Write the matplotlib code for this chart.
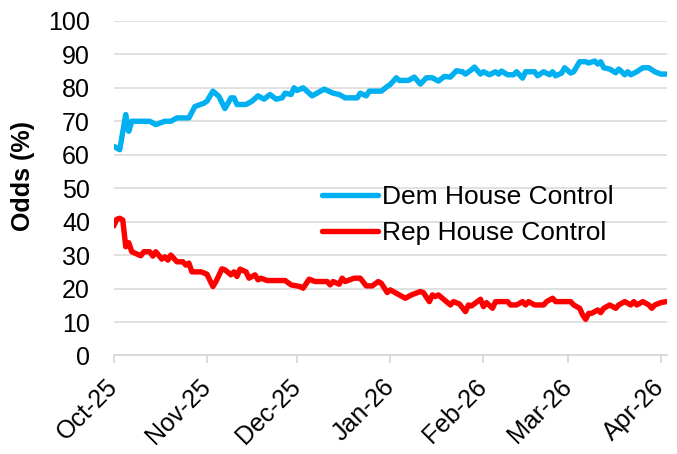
import numpy as np
import matplotlib
matplotlib.use("Agg")
import matplotlib.pyplot as plt
import matplotlib.dates as mdates

plt.rcParams['font.family'] = ['Liberation Sans', 'DejaVu Sans']

start = np.datetime64('2025-10-01')

# days since Oct 1 2025, and odds in %
dem_day = [0, 2, 4, 5, 6, 12, 14, 17, 19, 21, 25, 27, 30, 31, 33, 35, 37, 39, 40, 41,
           44, 46, 48, 50, 52, 54, 56, 57, 59, 60, 61, 63, 66, 70, 73, 75, 77, 81, 82, 84,
           85, 89, 91, 92, 94, 95, 98, 100, 102, 104, 106, 108, 110, 112, 114, 116, 117, 119, 120, 122,
           123, 125, 127, 128, 129, 131, 133, 134, 136, 137, 140, 141, 143, 145, 146, 147, 149, 150, 152, 153,
           155, 157, 158, 160, 161, 162, 163, 165, 167, 168, 170, 171, 172, 174, 176, 178, 180, 182, 184]
dem_odds = [62.5, 61.5, 72, 67, 70, 70, 69, 70, 70, 71, 71, 74.4, 75.4, 76, 79, 77.4, 73.8, 77, 77, 75,
            75, 76, 77.6, 76.6, 78, 76.6, 77, 78.4, 78, 80, 79.2, 80, 77.6, 79.6, 78.4, 78, 77, 77, 78.4, 77.6,
            79, 79, 80.4, 81, 83, 82.2, 82.2, 83.2, 81.1, 83, 83, 82, 83.4, 83.2, 85.1, 84.8, 84.1, 85.4, 86.2, 84.1,
            84.8, 83.9, 84.8, 84.1, 85, 83.9, 83.9, 84.8, 82.9, 84.8, 84.8, 83.6, 84.8, 83.9, 84.8, 83.6, 84.4, 86, 84.4, 84.8,
            87.8, 87.8, 87.4, 88, 87.1, 87.8, 86, 85.6, 84.5, 85.6, 83.9, 84.8, 83.9, 84.8, 86, 86, 84.8, 84.1, 84.1]

rep_day = [0, 1, 2, 3, 4, 5, 6, 9, 10, 12, 13, 14, 16, 17, 18, 19, 21, 23, 24, 25,
           26, 29, 31, 33, 34, 36, 37, 39, 40, 41, 42, 44, 45, 47, 48, 49, 51, 57, 59, 62,
           63, 65, 67, 71, 72, 73, 75, 76, 77, 80, 82, 84, 86, 88, 89, 91, 92, 95, 97, 99,
           102, 103, 105, 106, 107, 108, 110, 112, 113, 115, 117, 118, 119, 122, 123, 124, 126, 127, 131, 132,
           134, 136, 137, 138, 140, 143, 144, 146, 147, 152, 153, 155, 156, 157, 158, 159, 161, 162, 163, 165,
           167, 168, 170, 172, 173, 174, 176, 178, 179, 180, 182, 184]
rep_odds = [38.7, 40.7, 41, 40.5, 32.5, 33.7, 31, 29.8, 31, 31, 29.7, 31, 28.8, 29.5, 28.5, 30, 28, 28, 27, 27.6,
            25, 25, 24.3, 20.6, 22.1, 25.9, 25.6, 24.1, 25, 23.6, 25.8, 25, 23.1, 24.1, 22.6, 23.1, 22.4, 22.4, 21.1, 20.6,
            20.1, 22.8, 22.1, 22.1, 21.1, 22.1, 21.3, 23.1, 22.1, 23.1, 23.1, 20.8, 20.8, 22.1, 21.6, 18.8, 19.6, 18.1, 17.1, 18.1,
            19.1, 18.8, 16.1, 18.1, 17.6, 18.1, 16.6, 15.1, 16.1, 15.4, 13.1, 15.1, 14.8, 16.8, 14.6, 15.8, 14.1, 16.1, 16.1, 15.1,
            15.1, 16.1, 15.1, 16.1, 15.1, 15.1, 16.1, 17.1, 16.1, 16.1, 15.1, 14.1, 12.1, 10.8, 12.6, 12.6, 13.6, 12.8, 14.1, 15.1,
            14.1, 15.1, 16.1, 15.1, 16.1, 15.1, 16.1, 15.1, 14.1, 15.1, 15.8, 16.1]

dem_dates = start + np.array(dem_day).astype('timedelta64[D]')
rep_dates = start + np.array(rep_day).astype('timedelta64[D]')

fig = plt.figure(figsize=(6.77, 4.54), dpi=100)
ax = fig.add_axes([0.168, 0.217, 0.817, 0.737])

line_kw = dict(linewidth=3.9, solid_joinstyle='round', solid_capstyle='round')
ax.plot(dem_dates, dem_odds, color='#00B0F0', label='Dem House Control', **line_kw)
ax.plot(rep_dates, rep_odds, color='#FF0000', label='Rep House Control', **line_kw)

ax.set_ylim(0, 100)
ax.set_yticks(range(0, 101, 10))
ax.set_xlim(start, start + np.timedelta64(184, 'D'))
ax.xaxis.set_major_locator(mdates.MonthLocator())
ax.xaxis.set_major_formatter(mdates.DateFormatter('%b-%y'))

ax.grid(axis='y', color='#D9D9D9', linewidth=1.1)
ax.set_axisbelow(True)
for side in ['left', 'right', 'top']:
    ax.spines[side].set_visible(False)
ax.spines['bottom'].set_color('#D9D9D9')
ax.spines['bottom'].set_linewidth(1.3)

ax.tick_params(axis='y', length=0, pad=17, labelsize=18)
ax.tick_params(axis='x', length=6, width=1.3, color='#D9D9D9', labelsize=18, pad=14)
for lbl in ax.get_xticklabels():
    lbl.set_rotation(45)
    lbl.set_ha('right')
    lbl.set_va('center')
    lbl.set_rotation_mode('anchor')

ax.set_ylabel('Odds (%)', fontsize=18, fontweight='bold')
ax.yaxis.set_label_coords(-0.143, 0.537)

ax.legend(loc='center left', bbox_to_anchor=(0.377, 0.419), frameon=False,
          fontsize=19, handlelength=2.1, handletextpad=0.15, labelspacing=0.45,
          borderpad=0, borderaxespad=0)

fig.savefig('out.png', dpi=100)
